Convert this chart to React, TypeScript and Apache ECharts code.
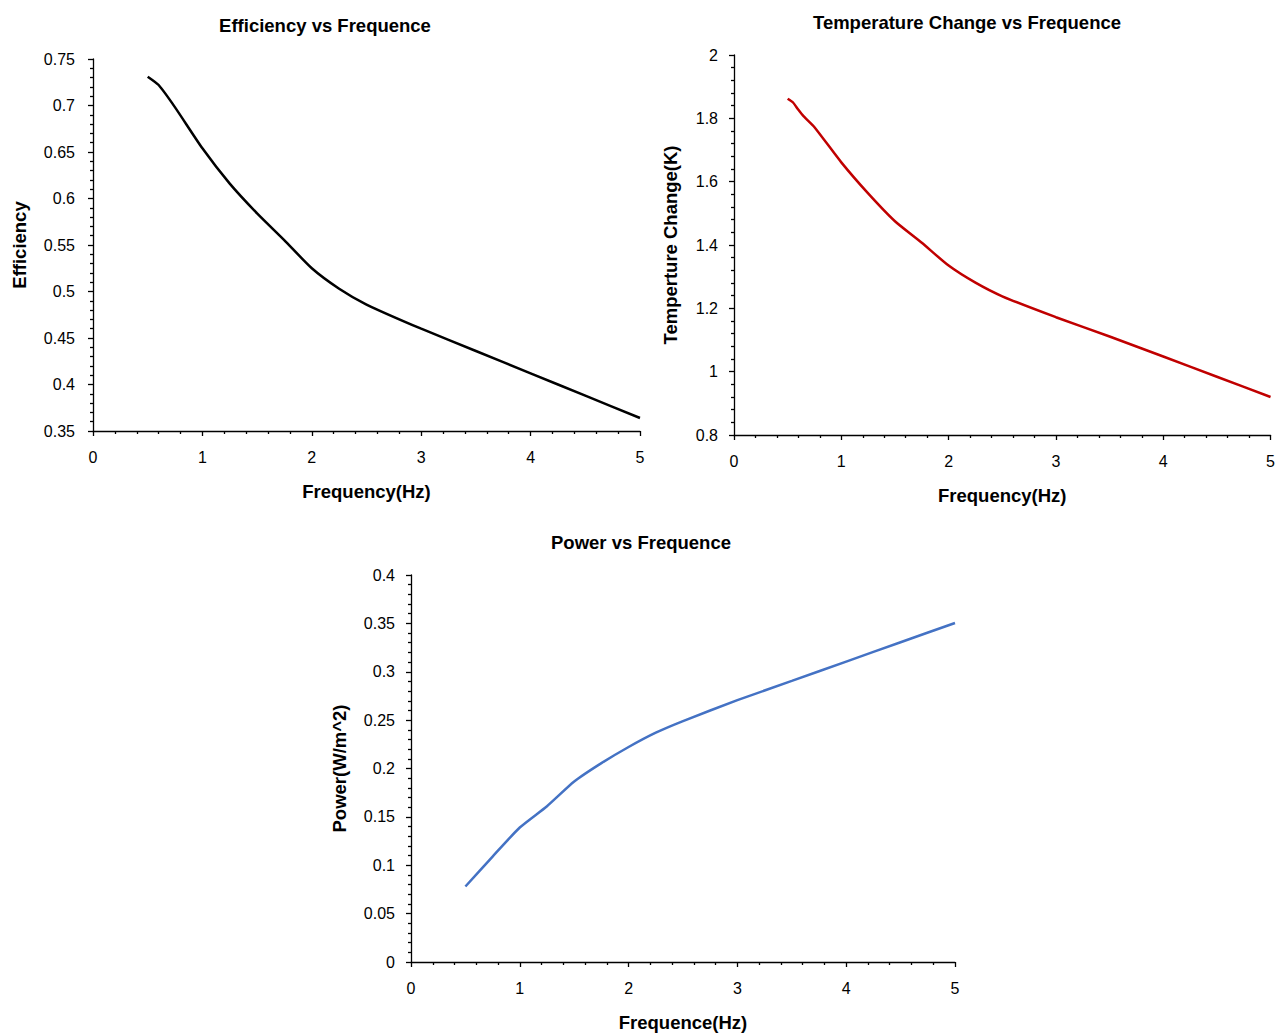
import React, { useEffect, useRef } from "react";
import * as echarts from "echarts";

const freqEff = [0.5, 0.6, 0.75, 1.0, 1.25, 1.5, 1.75, 2.0, 2.25, 2.5, 3.0, 3.5, 4.0, 4.5, 5.0];
const efficiency = [0.731, 0.722, 0.698, 0.654, 0.616, 0.584, 0.555, 0.525, 0.503, 0.486, 0.460, 0.436, 0.412, 0.388, 0.364];

const freqTemp = [0.5, 0.55, 0.6, 0.65, 0.75, 1.0, 1.25, 1.5, 1.75, 2.0, 2.25, 2.5, 3.0, 3.5, 4.0, 4.5, 5.0];
const tempChange = [1.862, 1.85, 1.827, 1.806, 1.772, 1.661, 1.563, 1.475, 1.407, 1.335, 1.281, 1.238, 1.172, 1.111, 1.048, 0.984, 0.92];

const freqPow = [0.5, 0.75, 1.0, 1.25, 1.5, 1.75, 2.0, 2.25, 2.5, 3.0, 3.5, 4.0, 4.5, 5.0];
const power = [0.078, 0.109, 0.139, 0.161, 0.1865, 0.2055, 0.2222, 0.237, 0.249, 0.2706, 0.2905, 0.3105, 0.3305, 0.3504];

const xTicks = [0, 1, 2, 3, 4, 5];

const FONT = "'Liberation Sans', Arial, sans-serif";

const fmt = (v: number) => String(+Number(v).toFixed(4));

function xAxis(gridIndex: number, name: string) {
  return {
    type: "value",
    gridIndex,
    min: xTicks[0],
    max: xTicks[xTicks.length - 1],
    interval: 1,
    name,
    nameLocation: "middle",
    nameGap: 51,
    nameTextStyle: { fontFamily: FONT, fontWeight: "bold", fontSize: 18.5, color: "#000" },
    axisLine: { show: true, lineStyle: { color: "#000", width: 1.3 } },
    axisTick: { show: true, inside: false, length: 5, lineStyle: { color: "#000", width: 1.3 } },
    minorTick: { show: true, splitNumber: 5, length: 3, lineStyle: { color: "#000", width: 1.3 } },
    axisLabel: { fontFamily: FONT, fontSize: 16, color: "#000", margin: 18, formatter: fmt },
    splitLine: { show: false },
  };
}

function yAxis(gridIndex: number, name: string, min: number, max: number, interval: number, gap: number, margin: number) {
  return {
    type: "value",
    gridIndex,
    min,
    max,
    interval,
    name,
    nameLocation: "middle",
    nameGap: gap,
    nameRotate: 90,
    nameTextStyle: { fontFamily: FONT, fontWeight: "bold", fontSize: 18.5, color: "#000" },
    axisLine: { show: true, lineStyle: { color: "#000", width: 1.3 } },
    axisTick: { show: true, inside: false, length: 5, lineStyle: { color: "#000", width: 1.3 } },
    minorTick: { show: true, splitNumber: 5, length: 3, lineStyle: { color: "#000", width: 1.3 } },
    axisLabel: { fontFamily: FONT, fontSize: 16, color: "#000", margin, formatter: fmt },
    splitLine: { show: false },
  };
}

function titleText(text: string, x: number, y: number) {
  return {
    type: "text",
    x,
    y,
    style: {
      text,
      textAlign: "center",
      textVerticalAlign: "middle",
      font: `bold 18.5px ${FONT}`,
      fill: "#000",
    },
  };
}

export default function App() {
  const ref = useRef<HTMLDivElement>(null);
  useEffect(() => {
    if (!ref.current) return;
    const chart = echarts.init(ref.current, null, { renderer: "svg" });
    const zip = (xs: number[], ys: number[]) => xs.map((x, i) => [x, ys[i]]);
    chart.setOption({
      animation: false,
      backgroundColor: "#fff",
      grid: [
        { left: 93, top: 59, width: 547, height: 372 },
        { left: 734, top: 55, width: 539, height: 380 },
        { left: 411, top: 575, width: 544, height: 387 },
      ],
      xAxis: [
        xAxis(0, "Frequency(Hz)"),
        xAxis(1, "Frequency(Hz)"),
        xAxis(2, "Frequence(Hz)"),
      ],
      yAxis: [
        yAxis(0, "Efficiency", 0.35, 0.75, 0.05, 64, 18),
        yAxis(1, "Temperture Change(K)", 0.8, 2, 0.2, 54, 16),
        yAxis(2, "Power(W/m^2)", 0, 0.4, 0.05, 62, 16),
      ],
      graphic: [
        titleText("Efficiency vs Frequence", 325, 25),
        titleText("Temperature Change vs Frequence", 967, 22),
        titleText("Power vs Frequence", 641, 542),
      ],
      series: [
        {
          type: "line",
          xAxisIndex: 0,
          yAxisIndex: 0,
          data: zip(freqEff, efficiency),
          smooth: 0.2,
          showSymbol: false,
          lineStyle: { color: "#000000", width: 2.5 },
        },
        {
          type: "line",
          xAxisIndex: 1,
          yAxisIndex: 1,
          data: zip(freqTemp, tempChange),
          smooth: 0.2,
          showSymbol: false,
          lineStyle: { color: "#C00000", width: 2.5 },
        },
        {
          type: "line",
          xAxisIndex: 2,
          yAxisIndex: 2,
          data: zip(freqPow, power),
          smooth: 0.2,
          showSymbol: false,
          lineStyle: { color: "#4472C4", width: 2.5 },
        },
      ],
    });
    return () => chart.dispose();
  }, []);
  return (
    <div
      ref={ref}
      style={{ position: "absolute", left: 0, top: 0, width: 1278, height: 1034, background: "#fff" }}
    />
  );
}
